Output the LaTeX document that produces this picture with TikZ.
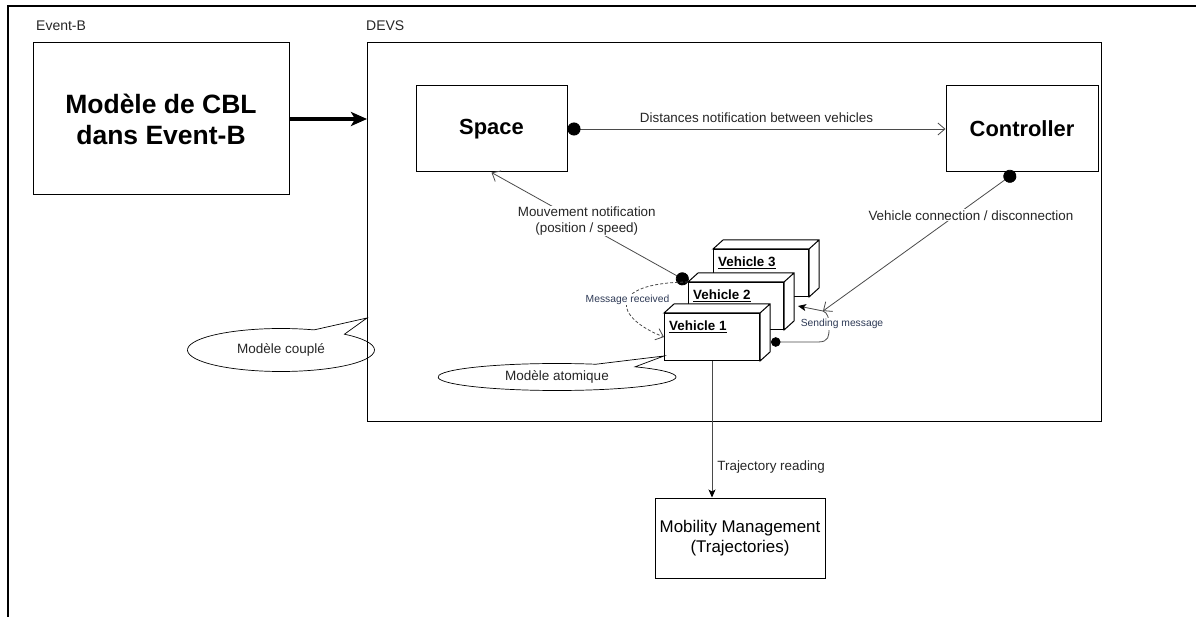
\documentclass[tikz,border=0pt]{standalone}
\usepackage{fontspec}
\setmainfont{Liberation Sans}
\usepackage{tikz}
\usetikzlibrary{positioning,calc}
\usetikzlibrary{arrows.meta}
\usetikzlibrary{shapes.callouts}
\usepackage{xcolor}
\definecolor{txtgray}{HTML}{262626}
\definecolor{linegray}{HTML}{4A4A4A}
\definecolor{msgblue}{HTML}{2E3A56}
\tikzset{
  bul/.tip={Circle[length=13pt,color=black]},
  smallbul/.tip={Circle[length=9.5pt,color=black]},
  barb/.tip={Straight Barb[length=7pt,width=12pt]},
  head/.tip={Stealth[length=8pt,width=7pt,inset=2pt,color=black]},
  bighead/.tip={Stealth[length=16pt,width=14pt,inset=4pt]}
}

\begin{document}
\begin{tikzpicture}[x=1pt,y=-1pt,
    block/.style={draw,fill=white,line width=1pt,inner sep=0pt},
    vehicle/.style={draw,fill=white,line width=1pt,anchor=north west,minimum width=95pt,minimum height=47pt,inner sep=0pt},
    vlabel/.style={anchor=north west,inner sep=0pt,xshift=5pt,yshift=-8pt,font=\bfseries\fontsize{13.4}{16}\selectfont},
    lbl/.style={font=\fontsize{13.4}{15.5}\selectfont,text=txtgray,fill=white,inner sep=1pt,align=center},
    small/.style={font=\fontsize{10.3}{12}\selectfont,text=msgblue,fill=white,inner sep=1pt},
    bubble/.style={ellipse callout,draw,line width=0.7pt,font=\fontsize{13.5}{16}\selectfont,text=txtgray,callout pointer arc=22,inner sep=0pt},
    conn/.style={draw=linegray,line width=0.8pt}]
   \useasboundingbox (0,0) rectangle (1196,617);
   \draw[line width=1.3pt] (8,617) |- (1196,6);

   \node[anchor=base west,inner sep=0pt,font=\fontsize{14}{16}\selectfont,text=txtgray] (t_evb) at (36,31) {Event-B};
   \node[anchor=base west,inner sep=0pt,font=\fontsize{14}{16}\selectfont,text=txtgray] (t_devs) at (366,31) {DEVS};

   \node[block,minimum width=256pt,minimum height=152pt,align=center,font=\bfseries\fontsize{26.5}{31}\selectfont] (m_cbl) at (161,119) {Modèle de CBL\\dans Event-B};
   \draw[line width=3.2pt,-bighead] (m_cbl.east) -- (m_cbl.east -| 367,0);
   \node[block,minimum width=734pt,minimum height=378pt] (m_devs) at (734,232) {};

   \node[block,minimum width=151pt,minimum height=86pt,font=\bfseries\fontsize{21.9}{24}\selectfont] (m_space) at (491.5,129) {Space};
   \node[block,minimum width=152pt,minimum height=86pt,font=\bfseries\fontsize{21.9}{24}\selectfont,right=378pt of m_space] (m_ctrl) {Controller};

   % vehicles, back to front
   \foreach \n/\x/\y in {3/713/249,2/688/282,1/664/313}{
     \node[vehicle,label={[vlabel]north west:\underline{Vehicle \n}}] (m_v\n) at (\x,\y) {};
     \filldraw[fill=white,line width=1pt] (m_v\n.north west) -- ++(10,-9) -| ($(m_v\n.south east)+(10,-9)$) -- (m_v\n.south east) -- (m_v\n.north east) -- cycle
       (m_v\n.north east) -- ++(10,-9);
   }

   \node[block,minimum width=170pt,minimum height=80pt,align=center,font=\fontsize{16.9}{20}\selectfont] (m_mob) at (740,538) {Mobility Management\\(Trajectories)};

   \coordinate (p_couple) at (367,318);
   \coordinate (p_atom) at ($(m_v1.south west)+(0,-5)$);
   \coordinate (p_send) at (823,311);
   \node[bubble,minimum width=187pt,minimum height=43pt,callout absolute pointer={(p_couple)}] (m_couple) at (281,350) {Modèle couplé};
   \node[bubble,minimum width=238pt,minimum height=27pt,callout absolute pointer={(p_atom)}] (m_atom) at (557,377) {Modèle atomique};

    \path[conn]
    (m_space.east) edge [bul-barb] node[lbl,above=5pt,fill=none] {Distances notification between vehicles} (m_ctrl.west)
    (m_v2.north west) edge [bul-barb] node[lbl,xshift=-3pt,yshift=6pt] {Mouvement notification\\(position / speed)} (m_space.south)
    (m_ctrl.-99) edge [bul-barb] node[lbl,pos=0.23,yshift=-11pt] {Vehicle connection / disconnection} (p_send)
    (m_v1.south) edge [-head] node[lbl,pos=0.78,right=4pt,fill=none] {Trajectory reading} (m_v1.south |- m_mob.north);

    \draw[conn,dash pattern=on 3pt off 2pt,-barb] (m_v2.north west) .. controls (605,283) and (615,318) .. (m_v1.west)
      node[small,pos=0.45] {Message received};
    \draw[conn,smallbul-] ($(m_v1.east)+(11,5)$) -- (818,342) .. controls (829,342) and (829,336) .. (829,328) .. controls (829,318) and (828,313) .. (p_send);
    \draw[conn,-head] (p_send) -- ($(m_v2.east)+(14,0)$);
    \node[small] (t_send) at (842,324) {Sending message};
\end{tikzpicture}
\end{document}
